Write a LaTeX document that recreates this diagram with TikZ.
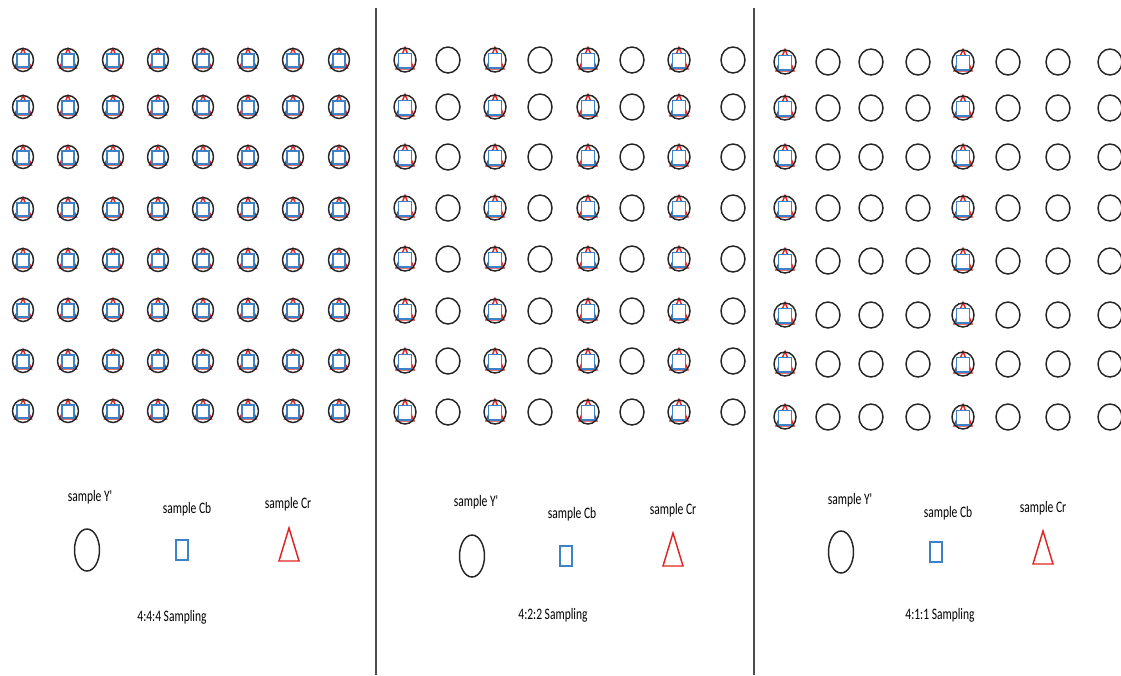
\documentclass[tikz,border=0pt]{standalone}
\usepackage{fontspec}
\newfontfamily\nar[FakeStretch=0.72]{Carlito}
\begin{document}
\begin{tikzpicture}[x=0.75pt,y=-0.75pt,
  ly/.style={draw=black!85,line width=1.1pt},
  cb/.style={draw={rgb,255:red,60;green,130;blue,200},line width=1.1pt},
  cr/.style={draw={rgb,255:red,225;green,35;blue,35},line width=1.1pt},
  sep/.style={draw=black!70,line width=1.1pt},
  lbl/.style={font=\nar\fontsize{12}{14}\selectfont,inner sep=0pt},
  full/.pic={
    \draw[cr] (0,-11.5) -- (-8.5,8) -- (8.5,8) -- cycle;
    \draw[cb,fill=white] (-6,-6) rectangle (6,7);
    \draw[ly] (0,0) ellipse [x radius=10.5,y radius=11.5];
  },
  fullb/.pic={
    \draw[cr] (0,-12.5) -- (-9,9) -- (9,9) -- cycle;
    \draw[cb,fill=white] (-6.5,-6.5) rectangle (6.5,8);
    \draw[ly] (0,0) ellipse [x radius=11,y radius=12];
  },
  yonly/.pic={
    \draw[ly] (0,0) ellipse [x radius=12,y radius=13];
  },
  legY/.pic={\draw[ly] (0,0) ellipse [x radius=12.5,y radius=21];},
  legCb/.pic={\draw[cb] (-6,-10) rectangle (6,10);},
  legCr/.pic={\draw[cr] (0,-17) -- (-10,16) -- (10,16) -- cycle;}
]
\useasboundingbox (0,0) rectangle (1121,675);
% separators
\draw[sep] (376,8) -- (376,675);
\draw[sep] (754,8) -- (754,675);
% panel 1 : 4:4:4
\foreach \y in {60,107,157,209,260,310,361,411}{
  \foreach \x in {23,68,113,158,203,248,293,339}{
    \pic at (\x,\y) {full};
  }
}
% panel 2 : 4:2:2
\foreach \y in {60,107,157,208,259,311,361,412}{
  \foreach \x in {405,495,588,679}{ \pic at (\x,\y) {fullb}; }
  \foreach \x in {448,540,632,733}{ \pic at (\x,\y) {yonly}; }
}
% panel 3 : 4:1:1
\foreach \y in {62,108,157,208,261,315,364,417}{
  \foreach \x in {785,963}{ \pic at (\x,\y) {fullb}; }
  \foreach \x in {828,871,918,1008,1058,1110}{ \pic at (\x,\y) {yonly}; }
}
% legends
\node[lbl] (y1) at (90,497) {sample Y'};
\node[lbl] (cb1) at (187,509) {sample Cb};
\node[lbl] (cr1) at (288,504) {sample Cr};
\pic at (87,550) {legY};
\pic at (182,550) {legCb};
\pic at (289,545) {legCr};
\node[lbl] (t1) at (172,617) {4:4:4 Sampling};

\node[lbl] (y2) at (476,502) {sample Y'};
\node[lbl] (cb2) at (572,514) {sample Cb};
\node[lbl] (cr2) at (673,510) {sample Cr};
\pic at (472,556) {legY};
\pic at (566,556) {legCb};
\pic at (673,550) {legCr};
\node[lbl] (t2) at (553,615) {4:2:2 Sampling};

\node[lbl] (y3) at (850,500) {sample Y'};
\node[lbl] (cb3) at (948,513) {sample Cb};
\node[lbl] (cr3) at (1043,508) {sample Cr};
\pic at (841,552) {legY};
\pic at (936,552) {legCb};
\pic at (1043,548) {legCr};
\node[lbl] (t3) at (940,615) {4:1:1 Sampling};
\end{tikzpicture}
\end{document}
